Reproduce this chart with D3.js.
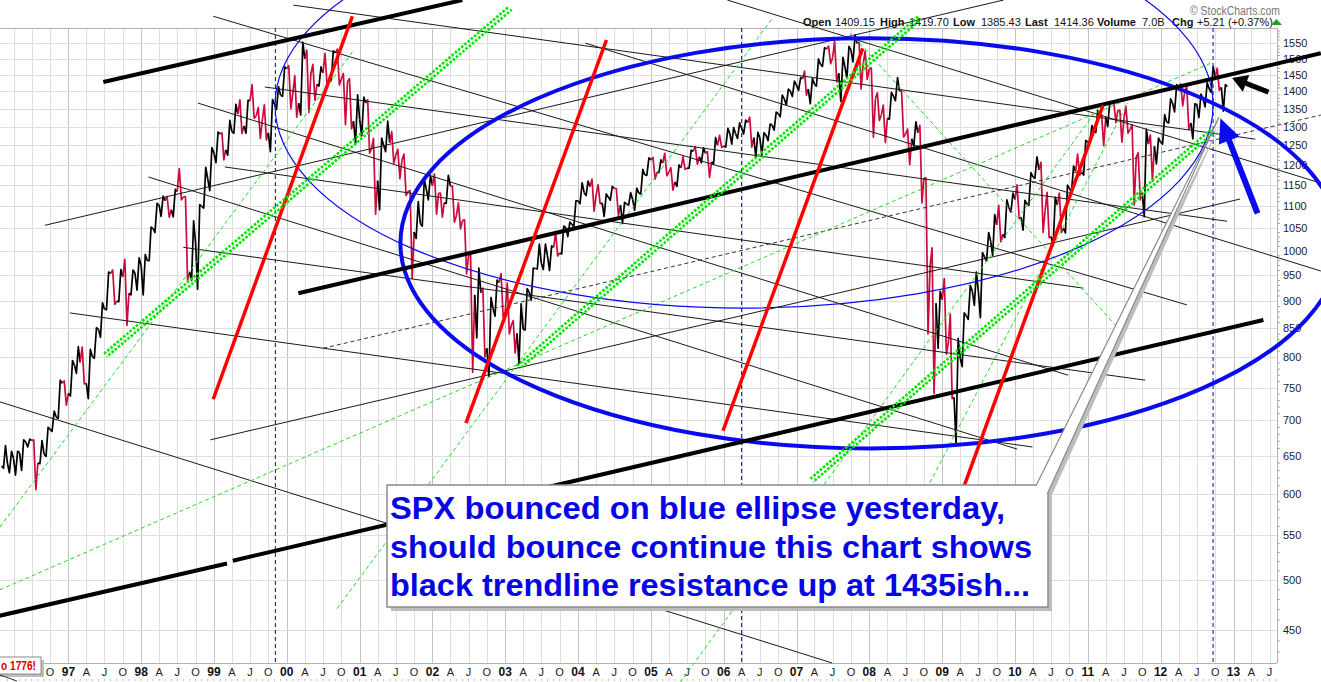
<!DOCTYPE html>
<html>
  <head>
    <meta charset="utf-8">
    <script src="https://d3js.org/d3.v7.min.js"></script>
    <style>
      body { margin: 0; background: #fff; }
      svg { display: block; font-family: "Liberation Sans", Arial, sans-serif; }
      .grid { stroke: #dedede; stroke-width: 1; shape-rendering: crispEdges; }
      .grid.year { stroke: #c2c2c2; }
      .frame { stroke: #b0b0b0; stroke-width: 1; shape-rendering: crispEdges; }
      .ylab { font-size: 11px; fill: #222; }
      .mlab { font-size: 11px; fill: #222; text-anchor: middle; }
      .ylab-year { font-size: 12px; font-weight: bold; fill: #111; text-anchor: middle; }
      .thin { stroke: #1a1a1a; stroke-width: 1; fill: none; }
      .dashed { stroke: #333; stroke-width: 1; stroke-dasharray: 4,3; }
      .gdash { stroke: #22dd22; stroke-width: 1; stroke-dasharray: 4,3; }
      .thick { stroke: #000; stroke-width: 4; }
      .red { stroke: #ff0000; stroke-width: 3.5; }
      .gband { stroke: #00e600; stroke-width: 2.6; stroke-dasharray: 2.6,1.6; }
      .cycle { stroke: #0000cc; stroke-width: 1; stroke-dasharray: 4,3; }
      .hdr { font-size: 11px; fill: #111; }
      .hdr b, .hdr .lbl { font-weight: bold; }
    </style>
  </head>
  <body>
    <div id="chart"></div>
    <script>

// ---------- DATA (SPX monthly, Feb 1996 - Nov 2012) ----------
var firstOpen = 636;
var closes = [
  640, 646, 654, 669, 671, 640, 652, 687, 705, 757, 741,
  786, 791, 757, 801, 848, 885, 954, 900, 947, 915, 955, 970,
  980, 1049, 1102, 1112, 1091, 1134, 1121, 957, 1017, 1099, 1164, 1229,
  1280, 1238, 1286, 1335, 1302, 1373, 1329, 1320, 1283, 1363, 1389, 1469,
  1395, 1366, 1499, 1452, 1421, 1455, 1431, 1518, 1437, 1429, 1315, 1320,
  1366, 1240, 1160, 1250, 1256, 1224, 1211, 1134, 1041, 1060, 1140, 1148,
  1130, 1107, 1147, 1077, 1067, 990, 912, 916, 815, 886, 936, 880,
  856, 841, 848, 917, 964, 975, 990, 1008, 996, 1051, 1058, 1112,
  1131, 1145, 1126, 1107, 1121, 1141, 1102, 1104, 1115, 1130, 1174, 1212,
  1181, 1204, 1181, 1157, 1192, 1191, 1234, 1220, 1229, 1207, 1250, 1248,
  1280, 1281, 1295, 1311, 1270, 1270, 1277, 1304, 1336, 1378, 1401, 1418,
  1438, 1407, 1421, 1482, 1531, 1503, 1455, 1474, 1527, 1549, 1481, 1468,
  1379, 1331, 1323, 1386, 1400, 1280, 1267, 1283, 1166, 969, 896, 903,
  826, 735, 798, 873, 919, 919, 988, 1021, 1057, 1036, 1096, 1115,
  1074, 1105, 1169, 1187, 1089, 1031, 1102, 1049, 1141, 1183, 1181, 1258,
  1286, 1327, 1326, 1364, 1345, 1321, 1292, 1219, 1131, 1253, 1247, 1258,
  1312, 1366, 1409, 1398, 1310, 1362, 1379, 1407, 1441, 1412, 1414
];
var highs = [
  664, 656, 656, 672, 673, 672, 671, 690, 714, 762, 761,
  794, 818, 817, 813, 851, 897, 957, 961, 962, 983, 961, 986,
  993, 1052, 1106, 1123, 1122, 1139, 1190, 1122, 1066, 1103, 1193, 1244,
  1285, 1283, 1317, 1362, 1375, 1374, 1420, 1353, 1361, 1376, 1414, 1474,
  1478, 1447, 1553, 1527, 1482, 1474, 1517, 1525, 1530, 1454, 1438, 1390,
  1383, 1376, 1268, 1269, 1315, 1286, 1239, 1227, 1136, 1110, 1163, 1173,
  1176, 1130, 1173, 1147, 1107, 1068, 994, 965, 925, 907, 941, 954,
  935, 864, 895, 924, 965, 1015, 1015, 1011, 1040, 1054, 1063, 1112,
  1155, 1159, 1164, 1150, 1128, 1146, 1141, 1108, 1131, 1142, 1188, 1217,
  1218, 1212, 1229, 1192, 1199, 1220, 1237, 1246, 1243, 1233, 1270, 1276,
  1295, 1297, 1310, 1318, 1326, 1284, 1283, 1307, 1340, 1389, 1407, 1431,
  1441, 1461, 1439, 1499, 1535, 1540, 1556, 1504, 1539, 1576, 1553, 1524,
  1471, 1396, 1360, 1397, 1441, 1404, 1293, 1313, 1303, 1167, 1007, 919,
  944, 876, 832, 878, 930, 957, 997, 1040, 1080, 1101, 1114, 1130,
  1150, 1113, 1180, 1220, 1206, 1132, 1120, 1130, 1149, 1196, 1227, 1263,
  1303, 1344, 1333, 1367, 1371, 1345, 1357, 1305, 1230, 1293, 1277, 1269,
  1333, 1378, 1420, 1422, 1415, 1364, 1392, 1426, 1475, 1470, 1420
];
var lows = [
  633, 627, 624, 630, 662, 605, 639, 649, 684, 703, 723,
  737, 773, 756, 733, 798, 834, 884, 894, 899, 855, 912, 921,
  912, 980, 1040, 1076, 1074, 1075, 1114, 940, 940, 923, 1095, 1136,
  1205, 1212, 1224, 1282, 1281, 1282, 1323, 1268, 1264, 1233, 1348, 1386,
  1350, 1326, 1332, 1339, 1374, 1416, 1413, 1431, 1419, 1305, 1294, 1254,
  1275, 1229, 1081, 1091, 1233, 1203, 1165, 1124, 944, 1027, 1054, 1114,
  1081, 1074, 1106, 1063, 1048, 953, 775, 833, 800, 768, 872, 870,
  840, 807, 789, 847, 902, 963, 962, 960, 990, 994, 1031, 1053,
  1105, 1124, 1088, 1105, 1076, 1113, 1078, 1060, 1102, 1090, 1128, 1173,
  1164, 1180, 1172, 1137, 1146, 1188, 1191, 1201, 1205, 1168, 1201, 1244,
  1245, 1253, 1268, 1280, 1245, 1219, 1224, 1262, 1290, 1327, 1360, 1385,
  1403, 1389, 1364, 1416, 1476, 1484, 1428, 1371, 1439, 1490, 1407, 1436,
  1271, 1317, 1257, 1320, 1373, 1272, 1200, 1247, 1107, 840, 741, 815,
  805, 733, 667, 784, 866, 892, 869, 979, 991, 1020, 1029, 1086,
  1071, 1045, 1101, 1166, 1040, 1029, 1011, 1040, 1039, 1133, 1173, 1174,
  1257, 1284, 1249, 1300, 1311, 1258, 1282, 1102, 1114, 1075, 1159, 1202,
  1253, 1310, 1341, 1358, 1292, 1267, 1325, 1355, 1397, 1403, 1343
];

var priceTicks = [450, 500, 550, 600, 650, 700, 750, 800, 850, 900, 950, 1000,
  1050, 1100, 1150, 1200, 1250, 1300, 1350, 1400, 1450, 1500, 1550];
var quarterLetters = {3: "A", 6: "J", 9: "O"};

// annotations: [decimal year, price] end points
var thickBlackLines = [
  [[1997.48, 1428], [2002.41, 1697]],
  [[2000.16, 915], [2014.20, 1517]],
  [[1996.06, 464], [1999.18, 518]],
  [[1999.26, 521], [2013.41, 865]]
];
var redLines = [
  [[1998.99, 732], [2000.90, 1640]],
  [[2002.46, 696], [2004.39, 1560]],
  [[2005.99, 685], [2007.91, 1533]],
  [[2009.29, 607], [2011.21, 1360]]
];
var greenBands = [
  [[1997.51, 803], [2003.07, 1668]],
  [[2003.18, 783], [2008.70, 1637]],
  [[2007.21, 617], [2012.72, 1290]]
];
var thinLines = [
  [[2000.09, 1679], [2013.30, 1266]],
  [[1998.99, 1640], [2012.36, 893]],
  [[1999.70, 1413], [2012.91, 1065]],
  [[1998.78, 1366], [2010.73, 770]],
  [[1999.15, 1194], [2010.94, 925]],
  [[1998.10, 1169], [2010.03, 659]],
  [[1998.58, 1008], [2011.79, 762]],
  [[1997.02, 878], [2010.24, 662]],
  [[1996.06, 728], [2007.49, 420]],
  [[2004.10, 1550], [2014.20, 959]],
  [[2006.05, 1697], [2014.20, 1154]],
  [[1996.68, 1056], [2009.84, 1697]],
  [[1998.95, 672], [2013.09, 1116]]
];
var dashedLines = [
  [[2000.50, 815], [2014.20, 1332]]
];
var greenDashLines = [
  [[1996.06, 559], [2000.90, 1521]],
  [[1996.06, 490], [2012.72, 1489]],
  [[2000.69, 471], [2006.68, 1637]],
  [[2005.40, 403], [2011.17, 1360]],
  [[2007.74, 1583], [2011.44, 847]],
  [[2008.83, 614], [2011.55, 1366]]
];
var bigEllipse = {from: 2001.56, to: 2014.46, top: 1566, bottom: 660};
var smallEllipse = {from: 1999.84, to: 2012.72, top: 2086, bottom: 887};
var cycleDates = [1999.844, 2006.246, 2012.72];
var blackArrow = [[2013.48, 1398], [2012.98, 1440]];
var blueArrow = [[2013.33, 1083], [2012.82, 1323]];
var pointerTip = [2012.80, 1326];

var headerItems = [["Open", "1409.15"], ["High", "1419.70"], ["Low", "1385.43"],
  ["Last", "1414.36"], ["Volume", "7.0B"], ["Chg", "+5.21 (+0.37%)"]];
var calloutText = ["SPX bounced on blue ellipse yesterday,",
  "should bounce continue this chart shows",
  "black trendline resistance up at 1435ish..."];

// ---------- SETUP ----------
var width = 1321, height = 682;
var plot = {left: 0, right: 1277, top: 28, bottom: 663};

var svg = d3.select("#chart").append("svg")
  .attr("width", width)
  .attr("height", height);

var x = d3.scaleTime()
  .domain([new Date(1996, 0, 24), new Date(2013, 7, 7)])
  .range([plot.left, plot.right]);

var y = d3.scaleLog()
  .domain([420, 1600])
  .range([plot.bottom, plot.top]);

function toDate(t) {
  var yr = Math.floor(t);
  var a = new Date(yr, 0, 1), b = new Date(yr + 1, 0, 1);
  return new Date(+a + (t - yr) * (b - a));
}
function px(p) { return [x(toDate(p[0])), y(p[1])]; }

// ---------- GRID ----------
var grid = svg.append("g");
var quarters = d3.timeMonth.every(3).range(new Date(1996, 1, 1), new Date(2013, 7, 7));

grid.selectAll(".vq").data(quarters).enter().append("line")
  .attr("class", function(d) { return d.getMonth() === 0 ? "grid year" : "grid"; })
  .attr("x1", function(d) { return Math.round(x(d)) + 0.5; })
  .attr("x2", function(d) { return Math.round(x(d)) + 0.5; })
  .attr("y1", plot.top).attr("y2", plot.bottom);

grid.selectAll(".hz").data(priceTicks).enter().append("line")
  .attr("class", "grid")
  .attr("x1", plot.left).attr("x2", plot.right)
  .attr("y1", function(d) { return Math.round(y(d)) + 0.5; })
  .attr("y2", function(d) { return Math.round(y(d)) + 0.5; });

grid.append("line").attr("class", "frame")
  .attr("x1", plot.left).attr("x2", plot.right).attr("y1", plot.top + 0.5).attr("y2", plot.top + 0.5);
grid.append("line").attr("class", "frame")
  .attr("x1", plot.left).attr("x2", plot.right).attr("y1", plot.bottom + 0.5).attr("y2", plot.bottom + 0.5);
grid.append("line").attr("class", "frame")
  .attr("x1", plot.right + 0.5).attr("x2", plot.right + 0.5).attr("y1", plot.top).attr("y2", plot.bottom);

// right axis
var minor = d3.range(430, 1600, 10).filter(function(v) { return v % 50 !== 0; });
grid.selectAll(".mt").data(minor).enter().append("line")
  .attr("stroke", "#aaa")
  .attr("x1", plot.right).attr("x2", plot.right + 3)
  .attr("y1", function(d) { return y(d); }).attr("y2", function(d) { return y(d); });
grid.selectAll(".ytl").data(priceTicks).enter().append("text")
  .attr("class", "ylab")
  .attr("x", plot.right + 6)
  .attr("y", function(d) { return y(d) + 4; })
  .text(function(d) { return d; });

// bottom axis
var labelQuarters = quarters.filter(function(d) { return x(d) > 45; });
grid.selectAll(".xtl").data(labelQuarters).enter().append("text")
  .attr("class", function(d) { return d.getMonth() === 0 ? "ylab-year" : "mlab"; })
  .attr("x", function(d) { return x(d); })
  .attr("y", 676)
  .text(function(d) {
    return d.getMonth() === 0 ? d3.timeFormat("%y")(d) : quarterLetters[d.getMonth()];
  });
var monthTicks = d3.timeMonth.range(new Date(1996, 2, 1), new Date(2013, 7, 7));
grid.selectAll(".mtk").data(monthTicks).enter().append("line")
  .attr("stroke", "#bbb")
  .attr("x1", function(d) { return x(d); }).attr("x2", function(d) { return x(d); })
  .attr("y1", 679).attr("y2", 681);

// ---------- PRICE ----------
var months = d3.timeMonth.range(new Date(1996, 1, 1), new Date(2012, 11, 1));
var bars = months.map(function(d, i) {
  return {date: d, open: i === 0 ? firstOpen : closes[i - 1],
          high: highs[i], low: lows[i], close: closes[i]};
});
var barLine = d3.line()
  .x(function(p) { return x(new Date(p[0])); })
  .y(function(p) { return y(p[1]); });

svg.append("g").selectAll("path").data(bars).enter().append("path")
  .attr("fill", "none")
  .attr("stroke-width", 1.7)
  .attr("stroke-linejoin", "round")
  .attr("stroke", function(b) { return b.close >= b.open ? "#000" : "#cc0a3c"; })
  .attr("d", function(b) {
    var t0 = +b.date, t1 = +d3.timeMonth.offset(b.date, 1), s = t1 - t0;
    var up = b.close >= b.open;
    return barLine([[t0, b.open], [t0 + s * 0.33, up ? b.low : b.high],
                    [t0 + s * 0.67, up ? b.high : b.low], [t1, b.close]]);
  });

// ---------- HEADER ----------
var hdrX = [803, 880, 953, 1025, 1097, 1172];
var valX = [835, 909, 981, 1054, 1142, 1197];
var hdr = svg.append("g").attr("class", "hdr");
headerItems.forEach(function(h, i) {
  hdr.append("text").attr("x", hdrX[i]).attr("y", 26).attr("font-weight", "bold").text(h[0]);
  hdr.append("text").attr("x", valX[i]).attr("y", 26).text(h[1]);
});
svg.append("path").attr("d", "M1271,25 L1276.5,19 L1282,25 Z").attr("fill", "#2a9a2a");
svg.append("text").attr("x", 1190).attr("y", 15)
  .attr("font-size", "12px").attr("fill", "#777")
  .attr("textLength", 90).attr("lengthAdjust", "spacingAndGlyphs")
  .text("\u00A9 StockCharts.com");

// ---------- ANNOTATIONS ----------
var ann = svg.append("g");

function drawSegments(list, cls) {
  ann.append("g").selectAll("line").data(list).enter().append("line")
    .attr("class", cls)
    .attr("x1", function(d) { return px(d[0])[0]; })
    .attr("y1", function(d) { return px(d[0])[1]; })
    .attr("x2", function(d) { return px(d[1])[0]; })
    .attr("y2", function(d) { return px(d[1])[1]; });
}

function drawEllipse(e, w) {
  var x0 = x(toDate(e.from)), x1 = x(toDate(e.to));
  var y0 = y(e.top), y1 = y(e.bottom);
  ann.append("ellipse")
    .attr("cx", (x0 + x1) / 2).attr("cy", (y0 + y1) / 2)
    .attr("rx", (x1 - x0) / 2).attr("ry", (y1 - y0) / 2)
    .attr("fill", "none").attr("stroke", "#0a0aee").attr("stroke-width", w);
}

ann.selectAll(".cyc").data(cycleDates).enter().append("line")
  .attr("class", "cycle")
  .attr("x1", function(d) { return x(toDate(d)); })
  .attr("x2", function(d) { return x(toDate(d)); })
  .attr("y1", plot.top).attr("y2", plot.bottom);

drawSegments(thinLines, "thin");
drawSegments(dashedLines, "dashed");
drawSegments(greenDashLines, "gdash");
drawEllipse(smallEllipse, 1.2);
drawEllipse(bigEllipse, 4);
drawSegments(thickBlackLines, "thick");
drawSegments(redLines, "red");

greenBands.forEach(function(s) {
  var a = px(s[0]), b = px(s[1]);
  var dx = b[0] - a[0], dy = b[1] - a[1], L = Math.hypot(dx, dy);
  var nx = -dy / L, ny = dx / L;
  [-2.1, 2.1].forEach(function(o, k) {
    ann.append("line").attr("class", "gband")
      .attr("stroke-dashoffset", k * 2.1)
      .attr("x1", a[0] + nx * o).attr("y1", a[1] + ny * o)
      .attr("x2", b[0] + nx * o).attr("y2", b[1] + ny * o);
  });
});

function drawArrow(s, color, w, hl, hw) {
  var a = px(s[0]), b = px(s[1]);
  var dx = b[0] - a[0], dy = b[1] - a[1], L = Math.hypot(dx, dy);
  var ux = dx / L, uy = dy / L, nx = -uy, ny = ux;
  var bx = b[0] - ux * hl, by = b[1] - uy * hl;
  ann.append("line").attr("stroke", color).attr("stroke-width", w)
    .attr("x1", a[0]).attr("y1", a[1]).attr("x2", bx + ux * 2).attr("y2", by + uy * 2);
  ann.append("path").attr("fill", color)
    .attr("d", "M" + b[0] + "," + b[1] + "L" + (bx + nx * hw) + "," + (by + ny * hw) +
               "L" + (bx - nx * hw) + "," + (by - ny * hw) + "Z");
}
drawArrow(blackArrow, "#000", 5, 15, 9);
drawArrow(blueArrow, "#0a0aee", 6, 24, 11);

// ---------- CALLOUT ----------
var box = {x: 387, y: 485, w: 661, h: 122};
var tip = px(pointerTip);
var call = svg.append("g");
call.append("path").attr("fill", "#bdbdbd")
  .attr("d", "M" + (box.x + box.w - 12 + 3) + "," + (box.y + 3) + "L" + (tip[0] + 3) + "," + (tip[1] + 3) +
             "L" + (box.x + box.w + 3) + "," + (box.y + 9 + 3) + "Z");
call.append("rect").attr("x", box.x + 4).attr("y", box.y + 4).attr("width", box.w).attr("height", box.h)
  .attr("fill", "#bdbdbd");
call.append("rect").attr("x", box.x).attr("y", box.y).attr("width", box.w).attr("height", box.h)
  .attr("fill", "#fff").attr("stroke", "#8a8a8a").attr("stroke-width", 1.5);
call.append("path").attr("fill", "#fff").attr("stroke", "#8a8a8a").attr("stroke-width", 1.2)
  .attr("d", "M" + (box.x + box.w - 12) + "," + (box.y + 0.8) + "L" + tip[0] + "," + tip[1] +
             "L" + (box.x + box.w - 0.8) + "," + (box.y + 9));
var calloutWidths = [615, 642, 640];
call.selectAll("text").data(calloutText).enter().append("text")
  .attr("x", box.x + 3)
  .attr("y", function(d, i) { return box.y + 34 + i * 38.5; })
  .attr("font-size", "32px").attr("font-weight", "bold").attr("fill", "#0505e6")
  .attr("textLength", function(d, i) { return calloutWidths[i]; })
  .attr("lengthAdjust", "spacingAndGlyphs")
  .text(function(d) { return d; });

// small red note bottom-left (cut off by the chart edge)
svg.append("rect").attr("x", -10 + 3).attr("y", 657 + 3).attr("width", 51).attr("height", 17).attr("fill", "#bdbdbd");
svg.append("rect").attr("x", -10).attr("y", 657).attr("width", 51).attr("height", 17)
  .attr("fill", "#fff").attr("stroke", "#8a8a8a");
svg.append("text").attr("x", 1).attr("y", 670).attr("font-size", "12px").attr("font-weight", "bold")
  .attr("fill", "#e00000").attr("textLength", 35).attr("lengthAdjust", "spacingAndGlyphs").text("o 1776!");
svg.append("line").attr("stroke", "#333").attr("x1", 0).attr("y1", 675).attr("x2", 17).attr("y2", 681);

    </script>
  </body>
</html>
